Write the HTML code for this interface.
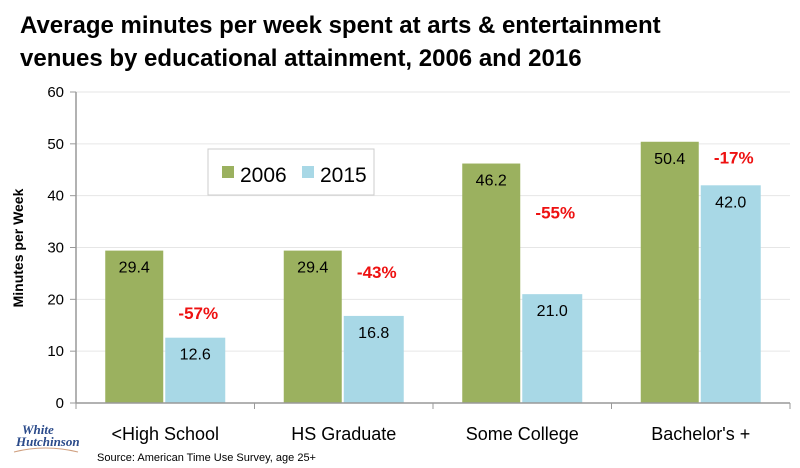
<!DOCTYPE html>
<html><head><meta charset="utf-8"><style>
body{margin:0;background:#fff;font-family:"Liberation Sans",sans-serif;}
#wrap{position:relative;width:800px;height:468px;overflow:hidden;}
</style></head><body>
<div id="wrap">
<svg id="svg" width="800" height="468" xmlns="http://www.w3.org/2000/svg">
<text x="20" y="33" font-size="24" font-weight="bold" fill="#000">Average minutes per week spent at arts &amp; entertainment</text>
<text x="20" y="66" font-size="24" font-weight="bold" fill="#000">venues by educational attainment, 2006 and 2016</text>
<g id="grid"></g><g id="bars"></g><g id="axes"></g>
<text transform="translate(23,248) rotate(-90)" text-anchor="middle" font-size="14" font-weight="bold">Minutes per Week</text>
<g>
<rect x="208" y="149" width="166" height="46" fill="#fff" stroke="#ccc"/>
<rect x="222" y="166" width="12" height="12" fill="#9bb15f"/>
<text x="240" y="182" font-size="21">2006</text>
<rect x="302" y="166" width="12" height="12" fill="#a8d8e6"/>
<text x="320" y="182" font-size="21">2015</text>
</g>
<g>
<text x="22" y="434" font-size="13" font-style="italic" font-weight="bold" fill="#2a4a8a" font-family="Liberation Serif,serif">White</text>
<text x="16" y="446" font-size="13" font-style="italic" font-weight="bold" fill="#2a4a8a" font-family="Liberation Serif,serif">Hutchinson</text>
<path d="M14 452 Q45 444 78 452" stroke="#d0a080" fill="none"/>
</g>
<text x="97" y="461" font-size="11">Source: American Time Use Survey, age 25+</text>
</svg>
</div>
<script>
const categories=["<High School","HS Graduate","Some College","Bachelor's +"];
const values2006=[29.4,29.4,46.2,50.4];
const values2015=[12.6,16.8,21.0,42.0];
const pctLabels=["-57%","-43%","-55%","-17%"];
const pctY=[17.4,25.3,36.8,47.4];
const yTicks=[0,10,20,30,40,50,60];
const NS="http://www.w3.org/2000/svg";
const L=76,R=790,T=92,B=403,yMax=60;
const y=v=>B-(v/yMax)*(B-T);
const cw=(R-L)/categories.length;
const cx=i=>L+cw*(i+0.5);
function mk(tag,attrs,parent,txt){const e=document.createElementNS(NS,tag);for(const k in attrs)e.setAttribute(k,attrs[k]);if(txt!==undefined)e.textContent=txt;parent.appendChild(e);return e;}
const grid=document.getElementById('grid'),bars=document.getElementById('bars'),axes=document.getElementById('axes');
yTicks.forEach(t=>{
 if(t>0){const g=mk('line',{x1:L,x2:R,y1:y(t),y2:y(t),stroke:'#e6e6e6'},grid);
 
 }
 mk('line',{x1:L-6,x2:L,y1:y(t),y2:y(t),stroke:'#999'},axes);
 const tl=mk('text',{x:L-12,y:y(t)+5,'text-anchor':'end','font-size':15},axes,String(t));
 
 
});
mk('line',{x1:L,x2:L,y1:T,y2:B,stroke:'#999','stroke-width':1.5},axes);
mk('line',{x1:L,x2:R,y1:B,y2:B,stroke:'#999','stroke-width':1.5},axes);
for(let i=0;i<=categories.length;i++)mk('line',{x1:L+cw*i,x2:L+cw*i,y1:B,y2:B+6,stroke:'#999'},axes);
categories.forEach((c,i)=>{
 const c0=cx(i);
 const b1=mk('rect',{x:c0-60,y:y(values2006[i]),width:58,height:B-y(values2006[i]),fill:'#9bb15f'},bars);
 
 
 const b2=mk('rect',{x:c0,y:y(values2015[i]),width:60,height:B-y(values2015[i]),fill:'#a8d8e6'},bars);
 
 
 const v1=mk('text',{x:c0-31,y:y(values2006[i])+22,'text-anchor':'middle','font-size':16},bars,values2006[i].toFixed(1));
 
 
 const v2=mk('text',{x:c0+30,y:y(values2015[i])+22,'text-anchor':'middle','font-size':16},bars,values2015[i].toFixed(1));
 
 
 const p=mk('text',{x:c0+33,y:y(pctY[i])+6,'text-anchor':'middle','font-size':17,'font-weight':'bold',fill:'#ee1111'},bars,pctLabels[i]);
 
 
 const cl=mk('text',{x:c0,y:440,'text-anchor':'middle','font-size':18},axes,c);
 
 
});
</script>
</body></html>
